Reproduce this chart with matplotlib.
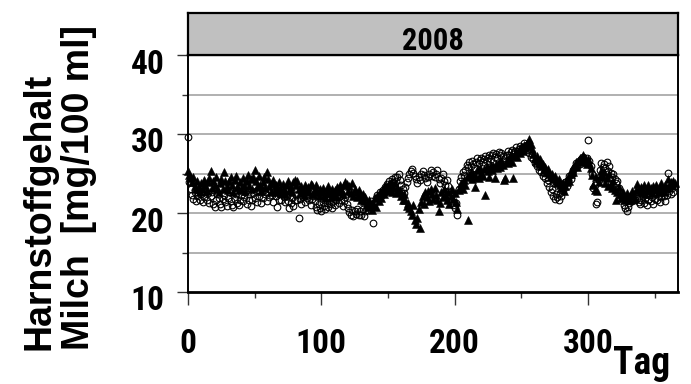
import numpy as np
import matplotlib
matplotlib.use("Agg")
import matplotlib.pyplot as plt
import matplotlib.transforms as mtransforms
from matplotlib.ticker import MultipleLocator

# ---------------- data ----------------
year_label = "2008"
x_label = "Tag"
y_label = "Harnstoffgehalt\nMilch  [mg/100 ml]"
x_ticks = [0, 100, 200, 300]
y_ticks = [10, 20, 30, 40]

triangles = [
    25.3, 24.8, 24.4, 23.9, 24.6, 23.4, 23.1, 24.0, 23.3, 22.7,
    23.8, 23.0, 24.2, 23.5, 22.8, 23.9, 24.4, 25.3, 23.2, 24.1,
    23.6, 24.5, 23.0, 22.6, 23.8, 24.3, 23.1, 25.2, 24.0, 23.4,
    22.9, 24.1, 24.6, 23.5, 22.7, 24.2, 24.7, 23.3, 22.9, 23.9,
    23.1, 24.4, 23.6, 22.8, 24.0, 24.8, 23.4, 24.3, 23.0, 24.6,
    25.4, 24.1, 23.3, 24.7, 23.6, 22.8, 23.9, 24.5, 23.2, 25.2,
    24.3, 23.4, 22.7, 23.8, 24.2, 22.9, 23.5, 22.6, 23.9, 23.2,
    22.5, 23.7, 23.0, 22.4, 23.5, 24.0, 22.8, 23.3, 22.6, 23.9,
    24.2, 23.6, 24.1, 23.0, 22.5, 23.4, 22.8, 22.3, 23.6, 22.9,
    23.3, 22.6, 23.7, 23.5, 22.4, 23.0, 23.6, 22.7, 22.2, 23.1,
    22.6, 23.2, 22.3, 21.9, 22.8, 23.4, 22.5, 22.0, 23.0, 22.4,
    22.9, 22.2, 23.3, 22.7, 23.5, 23.0, 22.4, 23.6, 23.9, 23.7,
    22.8, 23.4, 22.5, 23.8, 22.2, 23.1, 22.6, 22.0, 22.9, 22.3,
    21.7, 22.4, 21.5, 22.0, 21.2, 20.7, 21.6, 21.0, 20.4, 21.3,
    21.9, 20.8, 22.2, 21.5, 22.6, 21.9, 23.0, 22.4, 23.4, 22.8,
    23.6, 23.1, 23.9, 22.7, 23.3, 23.8, 22.5, 23.2, 22.6, 22.9,
    22.1, 21.7, 22.4, 21.6, 20.9, 21.3, 20.6, 20.2, 19.8, 21.0,
    19.1, 18.6, 19.4, 20.5, 18.1, 21.4, 22.1, 21.2, 22.6, 22.0,
    22.8, 21.5, 23.1, 22.4, 21.8, 23.2, 22.3, 21.7, 20.3, 21.3,
    22.6, 22.0, 23.0, 22.3, 21.6, 22.7, 21.2, 22.1, 23.0, 21.8,
    22.5, 21.4, 20.5, 22.9, 23.3, 23.8, 23.1, 24.2, 23.6, 24.5,
    19.1, 24.8, 25.2, 24.3, 25.0, 23.3, 24.6, 25.4, 24.4, 25.7,
    25.1, 24.7, 25.6, 22.3, 25.9, 25.3, 24.6, 26.1, 25.5, 26.0,
    24.4, 26.2, 25.7, 26.4, 25.8, 26.6, 26.1, 24.2, 24.4, 26.7,
    26.3, 26.9, 27.2, 26.5, 24.4, 27.3, 27.7, 27.1, 28.0, 27.6,
    28.3, 27.8, 28.6, 28.2, 28.9, 28.5, 29.4, 28.7, 28.1, 27.5,
    27.0, 26.6, 27.2, 26.3, 26.8, 25.9, 26.2, 25.5, 25.8, 25.2,
    25.6, 24.9, 24.5, 25.0, 24.3, 24.7, 24.1, 23.8, 24.3, 23.5,
    23.2, 23.8, 22.8, 23.4, 23.9, 24.5, 24.1, 25.0, 25.6, 25.2,
    26.0, 26.4, 25.8, 26.7, 27.0, 26.5, 27.4, 26.9, 26.6, 26.2,
    26.8, 26.3, 25.7, 24.8, 23.6, 22.9, 24.5, 22.8, 23.9, 24.6,
    25.3, 24.7, 25.2, 23.8, 24.4, 23.4, 24.9, 23.7, 23.2, 24.0,
    22.9, 21.6, 22.7, 23.3, 22.4, 21.9, 22.6, 22.1, 21.7, 22.5,
    22.0, 21.6, 22.3, 22.8, 22.2, 21.8, 22.9, 23.7, 23.1, 22.6,
    23.3, 22.7, 23.5, 22.4, 23.0, 23.6, 22.8, 23.2, 22.5, 23.4,
    22.9, 23.5, 23.0, 22.6, 23.3, 23.8, 23.1, 22.7, 23.6, 23.2,
    24.3, 23.4, 23.9, 23.5, 24.1, 23.8,
]

circles = [
    29.6, 23.9, 23.0, 22.3, 21.8, 22.6, 21.5, 22.2, 22.8, 21.7,
    22.4, 21.4, 22.0, 22.7, 21.6, 22.5, 21.3, 22.1, 22.6, 21.1,
    20.8, 21.7, 22.4, 21.9, 21.2, 20.7, 21.8, 22.3, 21.4, 20.9,
    21.9, 22.6, 21.5, 21.0, 20.7, 21.8, 22.4, 21.3, 21.0, 21.6,
    22.3, 21.5, 22.0, 22.7, 21.1, 22.4, 21.7, 20.9, 21.6, 22.5,
    21.9, 22.8, 21.4, 22.1, 22.6, 21.3, 21.9, 22.9, 22.4, 21.5,
    22.6, 22.0, 22.9, 22.3, 21.4, 22.7, 22.2, 20.8, 21.7, 22.4,
    21.7, 22.6, 22.0, 21.4, 22.2, 21.5, 20.6, 21.3, 21.9, 20.9,
    21.6, 22.3, 21.7, 19.4, 21.8, 21.2, 22.0, 22.5, 21.4, 21.9,
    22.3, 21.6, 21.0, 21.8, 22.2, 21.5, 20.8, 20.4, 21.1, 20.6,
    20.3, 21.4, 20.9, 20.5, 21.3, 20.7, 21.7, 21.2, 20.6, 21.5,
    21.0, 21.6, 22.0, 21.3, 22.2, 21.7, 20.9, 21.5, 22.0, 21.2,
    20.6, 20.1, 19.8, 20.4, 19.6, 20.2, 19.9, 20.5, 19.7, 20.3,
    19.8, 20.5, 19.6, 20.2, 20.8, 20.4, 21.1, 21.5, 20.9, 18.7,
    21.4, 21.9, 22.3, 21.8, 22.6, 22.1, 22.9, 22.5, 23.3, 23.7,
    23.2, 24.0, 23.6, 24.3, 23.9, 24.5, 24.1, 24.6, 25.0, 24.2,
    23.6, 23.0, 22.5, 23.3, 23.9, 24.4, 24.9, 25.3, 25.6, 25.1,
    24.7, 24.3, 23.8, 24.6, 24.2, 24.9, 25.3, 24.8, 24.4, 23.9,
    24.6, 25.0, 25.4, 24.7, 25.2, 24.5, 24.9, 25.5, 24.3, 23.8,
    24.4, 24.9, 24.1, 23.6, 24.2, 23.4, 22.8, 22.2, 21.5, 21.0,
    20.6, 21.3, 19.8, 23.0, 24.0, 24.6, 25.2, 24.8, 25.5, 26.1,
    25.8, 26.4, 26.0, 26.6, 26.2, 25.7, 26.5, 26.9, 26.3, 26.7,
    27.0, 26.5, 26.8, 27.2, 26.6, 27.0, 27.4, 26.8, 27.3, 27.6,
    27.1, 27.5, 26.9, 27.7, 27.3, 27.6, 27.2, 26.6, 27.0, 27.4,
    27.8, 27.3, 27.7, 28.0, 27.5, 27.9, 28.3, 27.8, 28.1, 28.5,
    28.0, 28.4, 28.8, 28.2, 28.6, 28.0, 27.6, 27.1, 27.5, 26.8,
    26.3, 26.7, 25.9, 25.5, 25.9, 25.2, 24.7, 25.1, 24.4, 23.8,
    24.2, 23.3, 22.6, 23.0, 22.1, 21.8, 22.4, 22.0, 21.7, 22.5,
    22.2, 22.9, 23.5, 23.9, 23.4, 24.2, 24.7, 24.3, 25.0, 25.5,
    25.8, 26.3, 25.9, 26.6, 26.2, 26.8, 27.1, 26.7, 26.4, 26.9,
    29.2, 26.6, 26.0, 24.9, 23.2, 23.6, 21.2, 21.4, 24.2, 25.4,
    26.3, 25.8, 26.2, 25.7, 26.4, 25.3, 25.9, 25.1, 24.6, 25.0,
    24.3, 23.8, 24.1, 23.2, 22.7, 22.2, 21.6, 21.0, 20.6, 20.3,
    20.7, 21.3, 21.9, 21.5, 22.2, 21.7, 22.4, 21.9, 21.4, 21.1,
    21.6, 22.1, 21.3, 21.9, 21.0, 21.7, 22.3, 21.5, 22.0, 21.2,
    21.8, 22.4, 21.6, 22.2, 21.4, 22.0, 22.6, 22.1, 21.5, 22.3,
    25.1, 22.8, 22.4, 23.2, 22.7, 23.4,
]

days_t = np.arange(len(triangles))
days_c = np.arange(len(circles))

# ---------------- figure ----------------
W, H = 691, 384
fig = plt.figure(figsize=(W / 100, H / 100), dpi=100)

narrow = ["Roboto Condensed", "Fira Sans Condensed", "IBM Plex Sans Condensed",
          "Liberation Sans", "DejaVu Sans"]
regular = ["Liberation Sans", "DejaVu Sans"]

def fx(px):
    return px / W

def fy(py):
    return 1 - py / H

ax_l, ax_r, ax_t, ax_b = 188, 678, 55, 292
ax = fig.add_axes([fx(ax_l), fy(ax_b), fx(ax_r - ax_l), (ax_b - ax_t) / H])
strip = fig.add_axes([fx(ax_l), fy(ax_t), fx(ax_r - ax_l), (ax_t - 13) / H])

ax.set_xlim(0, 367.5)
ax.set_ylim(10, 40)

for yv in [15, 20, 25, 30, 35]:
    ax.axhline(yv, color="#b0b0b0", lw=1.4, zorder=1)

ax.plot(days_t, triangles, linestyle="none", marker="^", ms=6.0,
        mfc="black", mec="black", mew=0.4, zorder=3, clip_on=False)
ax.plot(days_c, circles, linestyle="none", marker="o", ms=4.8,
        mfc="none", mec="black", mew=0.8, zorder=4, clip_on=False)

ax.xaxis.set_minor_locator(MultipleLocator(50))
ax.yaxis.set_minor_locator(MultipleLocator(5))
ax.set_xticks(x_ticks)
ax.set_yticks(y_ticks)

ax.tick_params(axis="x", which="major", direction="out", length=9, width=1.0,
               pad=17, color="#333333")
ax.tick_params(axis="x", which="minor", direction="out", length=4.5, width=1.0,
               color="#333333")
ax.tick_params(axis="y", which="major", direction="out", length=8, width=1.0,
               pad=9, color="#333333")
ax.tick_params(axis="y", which="minor", direction="out", length=4, width=1.0,
               color="#333333")

for lab in ax.get_xticklabels() + ax.get_yticklabels():
    lab.set_fontfamily(narrow)
    lab.set_fontweight("bold")
    lab.set_fontsize(24)

# y tick labels sit slightly below their ticks in the reference
shift = mtransforms.ScaledTranslation(0, -6 / 100, fig.dpi_scale_trans)
for lab in ax.get_yticklabels():
    lab.set_transform(lab.get_transform() + shift)

for s in ["left", "right"]:
    ax.spines[s].set_linewidth(1.4)
    ax.spines[s].set_color("black")
ax.spines["bottom"].set_linewidth(2.0)
ax.spines["top"].set_linewidth(1.6)

# strip with year
strip.set_facecolor("#c0c0c0")
strip.set_xticks([])
strip.set_yticks([])
for s in strip.spines.values():
    s.set_linewidth(1.6)
    s.set_color("black")
strip.text(0.5, 5 / 42, year_label, transform=strip.transAxes, ha="center",
           va="baseline", fontsize=22, fontweight="bold", family=narrow)

# axis labels
fig.text(fx(22), fy(350), y_label, rotation=90, ha="left", va="bottom",
         multialignment="left", fontsize=27, fontweight="bold",
         family=regular, linespacing=1.1)
fig.text(fx(613), fy(374), x_label, ha="left", va="baseline",
         fontsize=27, fontweight="bold", family=narrow)

fig.savefig("out.png", dpi=100)
